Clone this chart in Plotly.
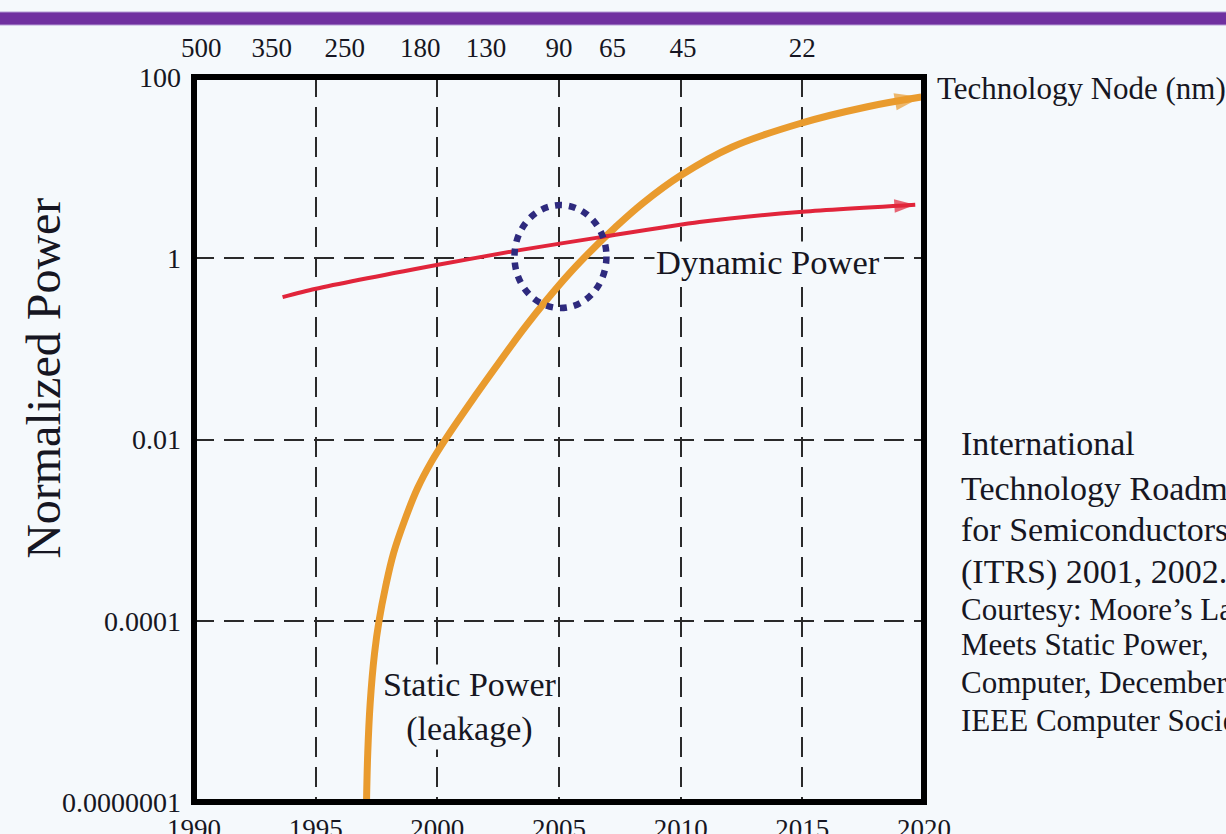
import plotly.graph_objects as go

# ---------------- data ----------------
year_ticks = [1990, 1995, 2000, 2005, 2010, 2015, 2020]
power_ticks = [1e-6, 1e-4, 1e-2, 1, 100]
power_tick_labels = ["0.0000001", "0.0001", "0.01", "1", "100"]

node_years = [1990.3, 1993.2, 1996.2, 1999.3, 2002.0, 2005.0, 2007.2, 2010.1, 2015.0]
node_labels = ["500", "350", "250", "180", "130", "90", "65", "45", "22"]

static_years = [1997.09, 1997.14, 1997.24, 1997.42, 1997.61, 1997.87, 1998.20, 1998.66,
                1999.19, 1999.76, 2000.38, 2001.53, 2002.56, 2003.58, 2004.49, 2005.43,
                2006.33, 2007.28, 2008.43, 2010.03, 2012.12, 2014.96, 2017.63, 2019.89]
static_power = [1.0e-6, 3.46e-6, 1.23e-5, 4.39e-5, 1.02e-4, 2.35e-4, 5.57e-4, 1.29e-3,
                2.91e-3, 5.70e-3, 1.05e-2, 2.96e-2, 7.22e-2, 0.170, 0.346, 0.681,
                1.22, 2.15, 4.02, 8.28, 16.9, 31.0, 46.7, 60.1]

dynamic_years = [1993.64, 1994.96, 1999.97, 2003.38, 2006.66, 2010.77, 2014.88, 2019.64]
dynamic_power = [0.372, 0.457, 0.841, 1.23, 1.70, 2.51, 3.24, 3.89]

# crossover highlight (years / power bounds)
circle_years = [2003.17, 2006.95]
circle_power = [0.282, 3.86]

source_lines_big = ["International", "Technology Roadmap", "for Semiconductors",
                    "(ITRS) 2001, 2002."]
source_lines_small = ["Courtesy: Moore’s Law", "Meets Static Power,",
                      "Computer, December 2003", "IEEE Computer Society"]

ORANGE = "#E99B2E"
RED = "#E1253B"
NAVY = "#2E2A7E"
TEXT = "#161622"
BG = "#F5F9FC"
FONT = "Liberation Serif"

fig = go.Figure()

fig.add_trace(go.Scatter(
    x=static_years, y=static_power, mode="lines+markers",
    line=dict(color=ORANGE, width=7, shape="spline", smoothing=1.1),
    marker=dict(symbol="arrow", angleref="previous", color=ORANGE,
                size=[0] * (len(static_years) - 1) + [28], line=dict(width=0)),
    hoverinfo="skip", showlegend=False))

fig.add_trace(go.Scatter(
    x=dynamic_years, y=dynamic_power, mode="lines+markers",
    line=dict(color=RED, width=4, shape="spline", smoothing=0.6),
    marker=dict(symbol="arrow", angleref="previous", color=RED,
                size=[0] * (len(dynamic_years) - 1) + [22], line=dict(width=0)),
    hoverinfo="skip", showlegend=False))

# invisible trace to carry the top (technology node) axis
fig.add_trace(go.Scatter(
    x=[year_ticks[0], year_ticks[-1]], y=[1, 1], xaxis="x2", mode="markers",
    marker=dict(opacity=0), hoverinfo="skip", showlegend=False))

fig.update_layout(
    width=1226, height=834,
    margin=dict(l=194, r=302, t=77, b=32, autoexpand=False),
    paper_bgcolor=BG, plot_bgcolor=BG,
    font=dict(family=FONT, color=TEXT, size=27),
    xaxis=dict(range=[year_ticks[0], year_ticks[-1]], tickvals=year_ticks,
               ticktext=[str(v) for v in year_ticks], automargin=False,
               showgrid=True, gridcolor="#2a2a2a", gridwidth=1.8, griddash="20px,10px",
               zeroline=False, showline=False, ticks="", ticklabelstandoff=8,
               tickfont=dict(size=27, family=FONT, color=TEXT)),
    xaxis2=dict(range=[year_ticks[0], year_ticks[-1]], overlaying="x", side="top",
                tickvals=node_years, ticktext=node_labels, showgrid=False, automargin=False,
                zeroline=False, showline=False, ticks="", ticklabelstandoff=14,
                tickfont=dict(size=27, family=FONT, color=TEXT)),
    yaxis=dict(type="log", range=[-6, 2], tickvals=power_ticks, ticktext=power_tick_labels,
               automargin=False,
               showgrid=True, gridcolor="#2a2a2a", gridwidth=1.8, griddash="20px,10px",
               zeroline=False, showline=False, ticks="", ticklabelstandoff=12,
               tickfont=dict(size=28, family=FONT, color=TEXT)),
)

shapes = [
    # purple banner
    dict(type="rect", xref="paper", yref="paper", x0=-0.3, x1=1.5, y0=1.0717, y1=1.0897,
         fillcolor="#7030A0", line=dict(color="#B9A2D8", width=1), layer="above"),
    # crossover circle
    dict(type="circle", xref="x", yref="y", x0=circle_years[0], x1=circle_years[1],
         y0=circle_power[0], y1=circle_power[1],
         line=dict(color=NAVY, width=6.5, dash="7px,7px"), layer="above"),
    # thick frame
    dict(type="rect", xref="paper", yref="paper", x0=0, x1=1, y0=0, y1=1,
         line=dict(color="black", width=6), layer="above"),
]
fig.update_layout(shapes=shapes)

annotations = [
    dict(text="Normalized Power", xref="paper", yref="paper", x=-0.2055, y=0.585,
         textangle=-90, showarrow=False, font=dict(size=48, family=FONT, color=TEXT),
         xanchor="center", yanchor="middle"),
    dict(text="Technology Node (nm)", xref="paper", yref="paper", x=1.0151, y=0.9848,
         showarrow=False, font=dict(size=31, family=FONT, color=TEXT),
         xanchor="left", yanchor="middle"),
    dict(text="Dynamic Power", xref="paper", yref="paper", x=0.786, y=0.745,
         showarrow=False, font=dict(size=34.5, family=FONT, color=TEXT), bgcolor=BG,
         xanchor="center", yanchor="middle"),
    dict(text="Static Power<br>(leakage)", xref="paper", yref="paper", x=0.378, y=0.1317,
         showarrow=False, font=dict(size=34, family=FONT, color=TEXT), align="center",
         bgcolor=BG, xanchor="center", yanchor="middle"),
]

big_y = [0.4938, 0.4331, 0.3752, 0.3172]
small_y = [0.2662, 0.2166, 0.1655, 0.1131]
for txt, yy in zip(source_lines_big, big_y):
    annotations.append(dict(text=txt, xref="paper", yref="paper", x=1.0493, y=yy,
                            showarrow=False, align="left", borderpad=0,
                            font=dict(size=34, family=FONT, color=TEXT),
                            xanchor="left", yanchor="middle"))
for txt, yy in zip(source_lines_small, small_y):
    annotations.append(dict(text=txt, xref="paper", yref="paper", x=1.0493, y=yy,
                            showarrow=False, align="left", borderpad=0,
                            font=dict(size=31, family=FONT, color=TEXT),
                            xanchor="left", yanchor="middle"))
fig.update_layout(annotations=annotations)

fig.write_html("out.html", config={"displayModeBar": False},
               post_script="document.body.style.margin='0';document.body.style.overflow='hidden';")
